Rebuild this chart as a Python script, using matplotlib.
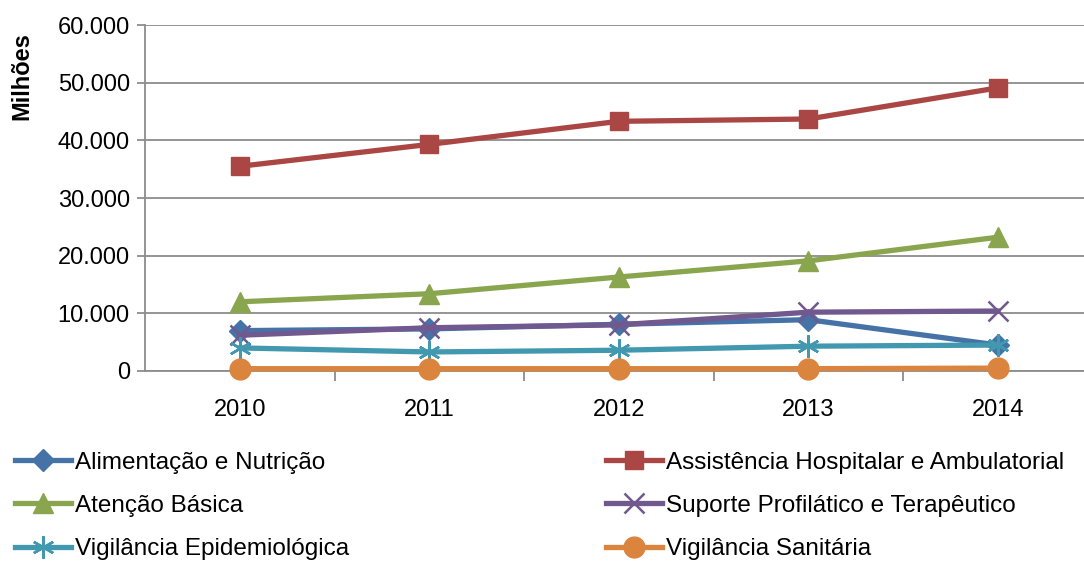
import numpy as np
from matplotlib import pyplot as plt

years = ["2010", "2011", "2012", "2013", "2014"]

alimentacao = [7000, 7300, 8100, 8900, 4500]
assistencia = [35500, 39300, 43300, 43700, 49100]
atencao = [12000, 13400, 16300, 19100, 23200]
suporte = [6200, 7500, 8000, 10200, 10400]
vig_epid = [4000, 3300, 3600, 4300, 4500]
vig_sanit = [400, 400, 400, 400, 500]

names = ["Alimentação e Nutrição", "Assistência Hospitalar e Ambulatorial",
         "Atenção Básica", "Suporte Profilático e Terapêutico",
         "Vigilância Epidemiológica", "Vigilância Sanitária"]
series = [alimentacao, assistencia, atencao, suporte, vig_epid, vig_sanit]
colors = ["#4572A7", "#AA4643", "#89A54E", "#71588F", "#4198AF", "#DB843D"]
markers = ["D", "s", "^", "x", (6, 2, 0), "o"]
msizes = [11, 13, 14, 14, 16, 15]

plt.rcParams['font.family'] = ['Liberation Sans', 'DejaVu Sans']

fig = plt.figure(figsize=(10.84, 5.61), dpi=100)
ax = fig.add_axes([0.1338, 0.3387, 0.8662, 0.6167])

x = np.arange(len(years))
lines = []
for s, name, c, m, ms in zip(series, names, colors, markers, msizes):
    ln, = ax.plot(x, s, color=c, lw=3.8, marker=m, markersize=ms,
                  markeredgewidth=1.8 if m in ("x", (6, 2, 0)) else 1,
                  markeredgecolor=c, label=name, zorder=3, clip_on=False)
    lines.append(ln)

ax.set_ylim(0, 60000)
ax.set_xlim(-0.5, 4.454)
ax.set_yticks(np.arange(0, 60001, 10000))
ax.set_yticklabels(["0" if v == 0 else f"{v // 1000}.000" for v in range(0, 60001, 10000)])
ax.yaxis.grid(True, color="#8c8c8c", lw=1.3)
ax.set_axisbelow(True)

ax.set_xticks(x)
ax.set_xticklabels(years)
ax.set_xticks(np.arange(0.5, 4.5, 1), minor=True)
ax.tick_params(axis="x", which="major", length=0, pad=20, labelsize=17)
ax.tick_params(axis="x", which="minor", length=7, color="#8c8c8c", width=1.3)
ax.tick_params(axis="y", length=6, color="#8c8c8c", width=1.3, labelsize=17, pad=5)

for sp in ["top", "right"]:
    ax.spines[sp].set_visible(False)
ax.spines["left"].set_color("#8c8c8c")
ax.spines["left"].set_linewidth(1.3)
ax.spines["bottom"].set_color("#8c8c8c")
ax.spines["bottom"].set_linewidth(1.3)

fig.text(0.02, 0.865, "Milhões", rotation=90, ha="center", va="center",
         fontsize=17, fontweight="bold")

order = [0, 2, 4, 1, 3, 5]
leg = fig.legend([lines[i] for i in order], [names[i] for i in order],
                 ncol=2, loc="upper left", bbox_to_anchor=(0.0095, 0.2035),
                 frameon=False, fontsize=17.5, handlelength=2.3,
                 handletextpad=0.15, columnspacing=10.6, labelspacing=0.87,
                 borderaxespad=0, borderpad=0.2)

fig.savefig("out.png", dpi=100)
